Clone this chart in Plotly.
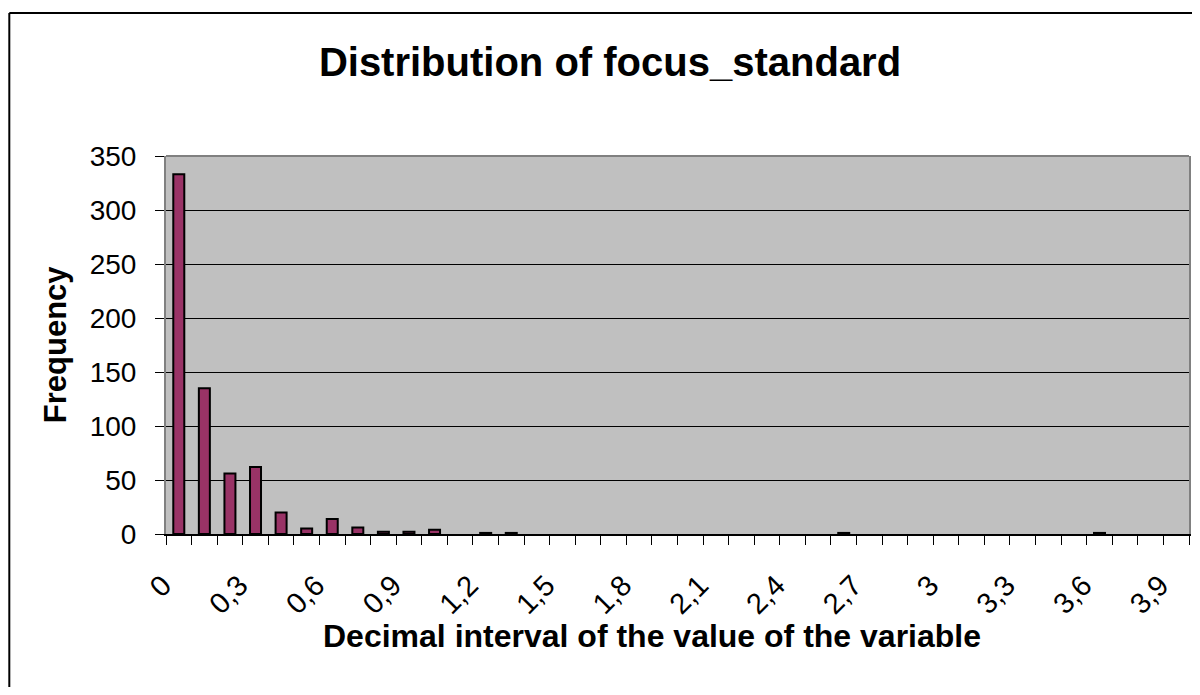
import plotly.graph_objects as go

categories = ["0", "0,1", "0,2", "0,3", "0,4", "0,5", "0,6", "0,7", "0,8", "0,9",
              "1", "1,1", "1,2", "1,3", "1,4", "1,5", "1,6", "1,7", "1,8", "1,9",
              "2", "2,1", "2,2", "2,3", "2,4", "2,5", "2,6", "2,7", "2,8", "2,9",
              "3", "3,1", "3,2", "3,3", "3,4", "3,5", "3,6", "3,7", "3,8", "3,9"]
frequency = [333, 135, 56, 62, 20, 5, 14, 6, 2, 2,
             4, 0, 1, 1, 0, 0, 0, 0, 0, 0,
             0, 0, 0, 0, 0, 0, 1, 0, 0, 0,
             0, 0, 0, 0, 0, 0, 1, 0, 0, 0]
tick_labels = [c if i % 3 == 0 else "" for i, c in enumerate(categories)]
y_ticks = [0, 50, 100, 150, 200, 250, 300, 350]

FONT = "Liberation Sans, Arial, sans-serif"

fig = go.Figure()
fig.add_trace(go.Bar(
    x=categories, y=frequency,
    marker=dict(color="#993366",
                line=dict(color="black", width=[2 if v > 0 else 0 for v in frequency])),
))

# page has an 8px body margin; figure drawn at (8, 8)
OFF = 8
W, H = 1184, 679
L, R, T, B = 166, 1191, 156, 534  # plot area in page coords
pw, ph = R - L, B - T

def px(x):
    return (x - L) / pw

def py(y):
    return (B - y) / ph

fig.update_layout(
    width=W, height=H,
    margin=dict(l=L - OFF, r=W - (R - OFF), t=T - OFF, b=H - (B - OFF), pad=0),
    paper_bgcolor="white",
    plot_bgcolor="#C0C0C0",
    bargap=0.57,
    showlegend=False,
    font=dict(family=FONT, color="black", size=28),
    title=dict(text="<b>Distribution of focus_standard</b>",
               font=dict(size=40, family=FONT, color="black"),
               x=(610 - OFF) / W, xanchor="center", y=1 - (62 - OFF) / H, yanchor="middle"),
    xaxis=dict(
        type="category",
        tickmode="array", tickvals=categories, ticktext=tick_labels,
        tickson="boundaries", ticks="outside", ticklen=9, tickcolor="black", tickwidth=1,
        tickangle=-45, tickfont=dict(size=29),
        showgrid=False, showline=True, linecolor="black", linewidth=1.5,
        ticklabelstandoff=21, ticklabelshift=-16,
        range=[-0.5, len(categories) - 0.5],
    ),
    yaxis=dict(
        range=[0, 350], tickmode="array", tickvals=y_ticks,
        ticks="outside", ticklen=9, tickcolor="black", tickwidth=1,
        tickfont=dict(size=28),
        showgrid=True, gridcolor="black", gridwidth=1,
        zeroline=False,
        showline=True, linecolor="#808080", linewidth=2, mirror=True,
        ticklabelstandoff=13,
    ),
    annotations=[
        dict(text="<b>Frequency</b>", xref="paper", yref="paper",
             x=px(55), y=py(344), xanchor="center", yanchor="middle",
             textangle=-90, showarrow=False, font=dict(size=31, family=FONT)),
        dict(text="<b>Decimal interval of the value of the variable</b>", xref="paper", yref="paper",
             x=px(653), y=py(636), xanchor="center", yanchor="middle",
             showarrow=False, font=dict(size=32, family=FONT)),
    ],
    shapes=[
        dict(type="line", xref="paper", yref="paper", x0=0, x1=1, y0=1, y1=1,
             line=dict(color="#808080", width=2), layer="above"),
        dict(type="line", xref="paper", yref="paper", x0=px(9), x1=px(1200), y0=py(13), y1=py(13),
             line=dict(color="black", width=2)),
        dict(type="line", xref="paper", yref="paper", x0=px(9), x1=px(9), y0=py(13), y1=py(700),
             line=dict(color="black", width=2)),
    ],
)

fig.write_html("out.html")
